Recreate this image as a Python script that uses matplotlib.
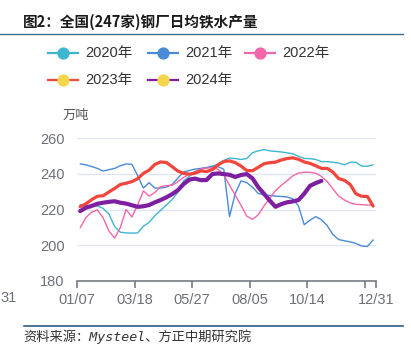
import matplotlib
matplotlib.use("Agg")
import matplotlib.pyplot as plt
from matplotlib.lines import Line2D
import numpy as np

# ---------------- data ----------------
x_labels = ["01/07", "03/18", "05/27", "08/05", "10/14", "", "12/31"]
x_ticks = [0, 10, 20, 30, 40, 50, 52]
y_ticks = [180, 200, 220, 240, 260]

s2020 = [222.8, 222.3, 222.0, 222.0, 220.6, 217.5, 210.5, 207.3, 206.9, 206.8,
         206.9, 210.6, 212.8, 216.5, 219.5, 222.5, 225.5, 229.6, 236.0, 238.5,
         241.0, 242.8, 243.2, 244.3, 245.3, 247.5, 248.8, 248.5, 248.0, 248.5,
         251.8, 252.8, 253.5, 252.8, 252.5, 252.2, 251.7, 251.2, 249.8, 248.6,
         248.4, 248.0, 246.8, 246.8, 246.4, 246.0, 245.0, 246.4, 246.4, 244.3,
         244.2, 245.0]
s2021 = [245.5, 245.0, 244.0, 243.0, 241.5, 242.3, 243.0, 244.5, 245.5, 245.3,
         239.0, 232.0, 235.0, 232.0, 232.0, 232.5, 234.0, 237.5, 241.0, 241.8,
         242.6, 243.0, 243.5, 244.0, 244.0, 242.5, 216.0, 229.0, 236.0, 235.0,
         232.5, 229.0, 228.2, 227.8, 227.5, 227.3, 227.0, 226.0, 222.0, 211.5,
         214.0, 216.0, 214.3, 211.0, 206.0, 203.2, 202.5, 201.9, 201.0, 199.6,
         199.3, 203.0]
s2022 = [209.8, 215.5, 218.5, 219.8, 215.3, 208.0, 204.0, 210.0, 220.0, 215.8,
         222.5, 230.4, 227.5, 229.5, 232.8, 233.4, 233.5, 235.5, 238.0, 239.6,
         241.2, 242.6, 243.2, 243.3, 242.5, 239.5, 233.5, 228.0, 222.3, 216.3,
         214.5, 217.0, 222.0, 226.3, 230.5, 233.5, 236.0, 238.8, 240.4, 240.8,
         240.8, 240.3, 238.5, 235.7, 231.5, 227.5, 225.3, 223.7, 222.9, 222.7,
         222.5, 222.5]
s2023 = [221.6, 223.2, 225.5, 227.4, 227.7, 229.8, 231.8, 234.0, 234.7, 235.6,
         237.2, 240.2, 242.0, 245.2, 246.6, 246.3, 244.0, 241.5, 240.2, 239.8,
         240.3, 241.6, 241.2, 242.3, 245.0, 246.8, 247.2, 246.2, 244.3, 241.8,
         241.7, 243.6, 245.6, 246.2, 246.5, 247.7, 248.5, 248.9, 248.1, 246.6,
         245.8, 244.5, 243.0, 243.0, 240.9, 237.3, 236.3, 234.0, 228.8, 227.4,
         227.3, 221.9]
s2024 = [219.1, 221.0, 222.0, 223.2, 223.8, 224.3, 224.6, 223.8, 223.3, 222.4,
         221.5, 221.8, 222.5, 224.0, 225.3, 226.8, 228.6, 230.8, 234.2, 236.7,
         237.3, 236.4, 236.5, 239.8, 240.2, 239.8, 239.4, 238.2, 239.3, 239.8,
         237.4, 232.5, 228.8, 225.0, 221.5, 223.0, 224.0, 224.5, 225.3, 228.8,
         233.2, 234.8, 236.0]

series_names = ["2020年", "2021年", "2022年", "2023年", "2024年"]
series_vals = [s2020, s2021, s2022, s2023, s2024]
line_colors = ["#3fb6cf", "#4a8ad6", "#f266aa", "#f2453b", "#7d1fa0"]
marker_colors = ["#3fb6cf", "#4a8ad6", "#f266aa", "#f5d54c", "#f5d54c"]
line_widths = [1.0, 1.0, 1.0, 2.3, 3.0]

# ---------------- figure ----------------
W, H = 411, 353
fig = plt.figure(figsize=(W / 100, H / 100), dpi=100)

def fx(px):
    return px / W

def fy(py):
    return 1 - py / H

ax = fig.add_axes([fx(77.3), fy(281), fx(376) - fx(77.3), fy(138) - fy(281)])

for i, (vals, c, lw) in enumerate(zip(series_vals, line_colors, line_widths)):
    xs = 0.5 + np.arange(len(vals))
    ax.plot(xs, vals, color=c, lw=lw, solid_joinstyle="round",
            solid_capstyle="round", zorder=3 + i)

ax.set_xlim(0, 52)
ax.set_ylim(180, 260)
ax.set_yticks(y_ticks)
ax.set_xticks(x_ticks)
ax.set_xticklabels(x_labels)

for sp in ["top", "right", "left"]:
    ax.spines[sp].set_visible(False)
ax.spines["bottom"].set_color("#6e7079")
ax.spines["bottom"].set_linewidth(1.1)
ax.grid(axis="y", color="#e0e6f1", lw=1.0, zorder=0)
ax.tick_params(axis="y", length=0, pad=9, labelsize=10.5, labelcolor="#6e7079")
ax.tick_params(axis="x", length=5, width=1.1, color="#6e7079", pad=4,
               labelsize=10.5, labelcolor="#6e7079")
for lab in ax.get_xticklabels() + ax.get_yticklabels():
    lab.set_family(["Liberation Sans", "DejaVu Sans"])

# partial label visible at the far left of the reference
fig.text(fx(0), fy(298), "31", ha="left", va="center", fontsize=10.5,
         color="#6e7079", family=["Liberation Sans", "DejaVu Sans"])

# unit label
fig.text(fx(63), fy(115), "万吨", ha="left", va="center", fontsize=9.5,
         color="#555555", family=["Noto Sans CJK SC", "DejaVu Sans"])

# title
fig.text(fx(23), fy(22), "图2：全国(247家)钢厂日均铁水产量", ha="left", va="center",
         fontsize=10.5, fontweight="bold", color="#1a1a1a",
         family=["Noto Sans CJK SC", "DejaVu Sans"])
fig.add_artist(Line2D([fx(0), fx(403)], [fy(33.5), fy(33.5)], color="#3a6c90",
                      lw=1.0, transform=fig.transFigure))

# legend (manual)
leg_pos = [(63, 53), (163, 53), (260, 53), (63, 80), (163, 80)]
for (mx, my), name, lc, mc in zip(leg_pos, series_names, line_colors, marker_colors):
    fig.add_artist(Line2D([fx(mx - 15), fx(mx + 15)], [fy(my), fy(my)], color=lc,
                          lw=1.6, transform=fig.transFigure))
    fig.add_artist(Line2D([fx(mx)], [fy(my)], marker="o", markersize=7.8,
                          markerfacecolor=mc, markeredgecolor=mc, lw=0,
                          transform=fig.transFigure))
    fig.text(fx(mx + 22), fy(my), name, ha="left", va="center", fontsize=10.5,
             color="#333333", family=["Liberation Sans", "Noto Sans CJK SC"])

# source
fig.add_artist(Line2D([fx(24), fx(403)], [fy(325.7), fy(325.7)], color="#1f4c80",
                      lw=1.1, transform=fig.transFigure))
fig.text(fx(23), fy(336.5), "资料来源：Mysteel、方正中期研究院", ha="left",
         va="center", fontsize=9.5, style="italic", color="#333333",
         family=["DejaVu Sans Mono", "Noto Sans CJK SC"])

fig.savefig("out.png", dpi=100)
